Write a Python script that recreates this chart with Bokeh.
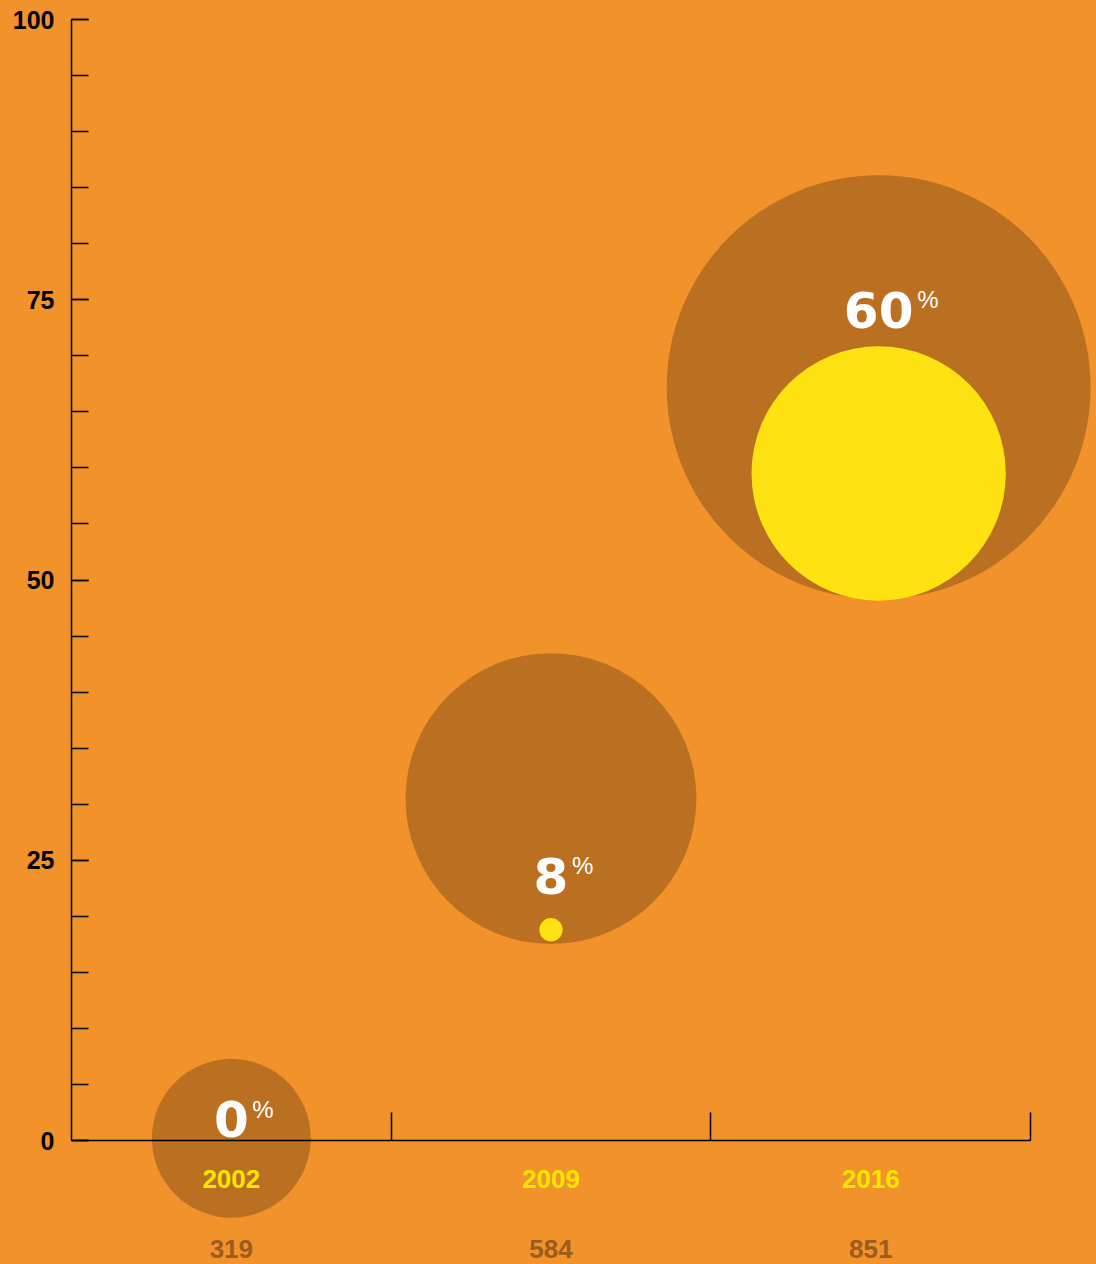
from bokeh.plotting import figure
from bokeh.models import ColumnDataSource, LinearAxis, FixedTicker, Range1d
from bokeh.core.properties import value
from bokeh.embed import file_html
from bokeh.resources import INLINE

# ---- data ----
years = ["2002", "2009", "2016"]
respondents = [319, 584, 851]
share_pct = [0, 8, 60]
bubble_x = [0.5, 1.5, 2.525]
bubble_y = [0.2, 30.5, 67.2]
inner_y = [0.2, 18.8, 59.5]
label_y = [1.9, 23.6, 74.1]
y_ticks = [0, 25, 50, 75, 100]
y_minor_ticks = list(range(0, 101, 5))
x_ticks = [1, 2, 3]

# ---- style ----
BG = "#F1922A"
BROWN = "#5C3210"
YELLOW = "#FFE212"
YEAR_COL = "#FFE600"
COUNT_COL = "#9C5B1F"
W, H = 1096, 1264
LEFT_PX, RIGHT_PX = 71, 1030
TOP_PX, ZERO_PX = 19, 1140
sx = (RIGHT_PX - LEFT_PX) / 3.0
sy = (ZERO_PX - TOP_PX) / 100.0
PX_PER_RESP = 0.249

p = figure(width=W, height=H,
           x_range=Range1d(-LEFT_PX / sx, (W - LEFT_PX) / sx),
           y_range=Range1d(-(H - ZERO_PX) / sy, 100 + TOP_PX / sy),
           output_backend="svg", toolbar_location=None, min_border=0,
           x_axis_type=None, y_axis_type=None)
p.outline_line_color = None
p.background_fill_color = BG
p.border_fill_color = BG

outer_size = [2 * PX_PER_RESP * n for n in respondents]
outer = ColumnDataSource(dict(x=bubble_x, y=bubble_y, size=outer_size))
p.scatter("x", "y", size="size", source=outer, marker="circle",
          fill_color=BROWN, fill_alpha=0.36, line_color=None)

ix, iy, isz = [], [], []
for bx, yy, s, pct in zip(bubble_x, inner_y, outer_size, share_pct):
    if pct > 0:
        ix.append(bx); iy.append(yy); isz.append(s * pct / 100.0)
inner = ColumnDataSource(dict(x=ix, y=iy, size=isz))
p.scatter("x", "y", size="size", source=inner, marker="circle",
          fill_color=YELLOW, line_color=None)

# percentage labels
digits = [str(v) for v in share_pct]
lab = ColumnDataSource(dict(x=bubble_x, y=label_y, t=digits,
                            pct=["%"] * len(digits),
                            xo=[17.5 * len(d) + 3.5 for d in digits]))
p.text("x", "y", text="t", source=lab, text_align="center",
       text_baseline="middle", text_color="white",
       text_font=value("DejaVu Sans"), text_font_style="bold",
       text_font_size="50px")
p.text("x", "y", text="pct", source=lab, text_align="left",
       text_baseline="middle", text_color="white", x_offset="xo",
       y_offset=-10, text_font=value("Liberation Sans"),
       text_font_size="24px")

# category labels
cat_x = [i + 0.5 for i in range(len(years))]
cats = ColumnDataSource(dict(x=cat_x, yy=[(ZERO_PX - 1178) / sy] * 3,
                             yc=[(ZERO_PX - 1248) / sy] * 3,
                             year=years, count=[str(n) for n in respondents]))
p.text("x", "yy", text="year", source=cats, text_align="center",
       text_baseline="middle", text_color=YEAR_COL,
       text_font=value("Liberation Sans"), text_font_style="bold",
       text_font_size="26px")
p.text("x", "yc", text="count", source=cats, text_align="center",
       text_baseline="middle", text_color=COUNT_COL,
       text_font=value("Liberation Sans"), text_font_style="bold",
       text_font_size="26px")

# axes
yax = LinearAxis(fixed_location=0, bounds=(0, 100),
                 ticker=FixedTicker(ticks=y_ticks, minor_ticks=y_minor_ticks),
                 axis_line_color="black", axis_line_width=1.5,
                 major_tick_in=17, major_tick_out=0, major_tick_line_width=1.5,
                 minor_tick_in=17, minor_tick_out=0, minor_tick_line_width=1.5,
                 major_label_standoff=17,
                 major_label_text_font="Liberation Sans",
                 major_label_text_font_style="bold",
                 major_label_text_font_size="25px",
                 major_label_text_color="black")
p.add_layout(yax, "left")

xax = LinearAxis(fixed_location=0, bounds=(0, 3),
                 ticker=FixedTicker(ticks=x_ticks, minor_ticks=[]),
                 axis_line_color="black", axis_line_width=1.5,
                 major_tick_in=28, major_tick_out=0, major_tick_line_width=1.5,
                 minor_tick_in=0, minor_tick_out=0,
                 major_label_overrides={t: "" for t in x_ticks},
                 major_label_text_font_size="1px")
p.add_layout(xax, "below")

html = file_html(p, INLINE, title="chart")
html = html.replace("</head>", "<style>html,body{margin:0;padding:0;overflow:hidden;background:%s;}</style></head>" % BG, 1)
open("out.html", "w").write(html)
